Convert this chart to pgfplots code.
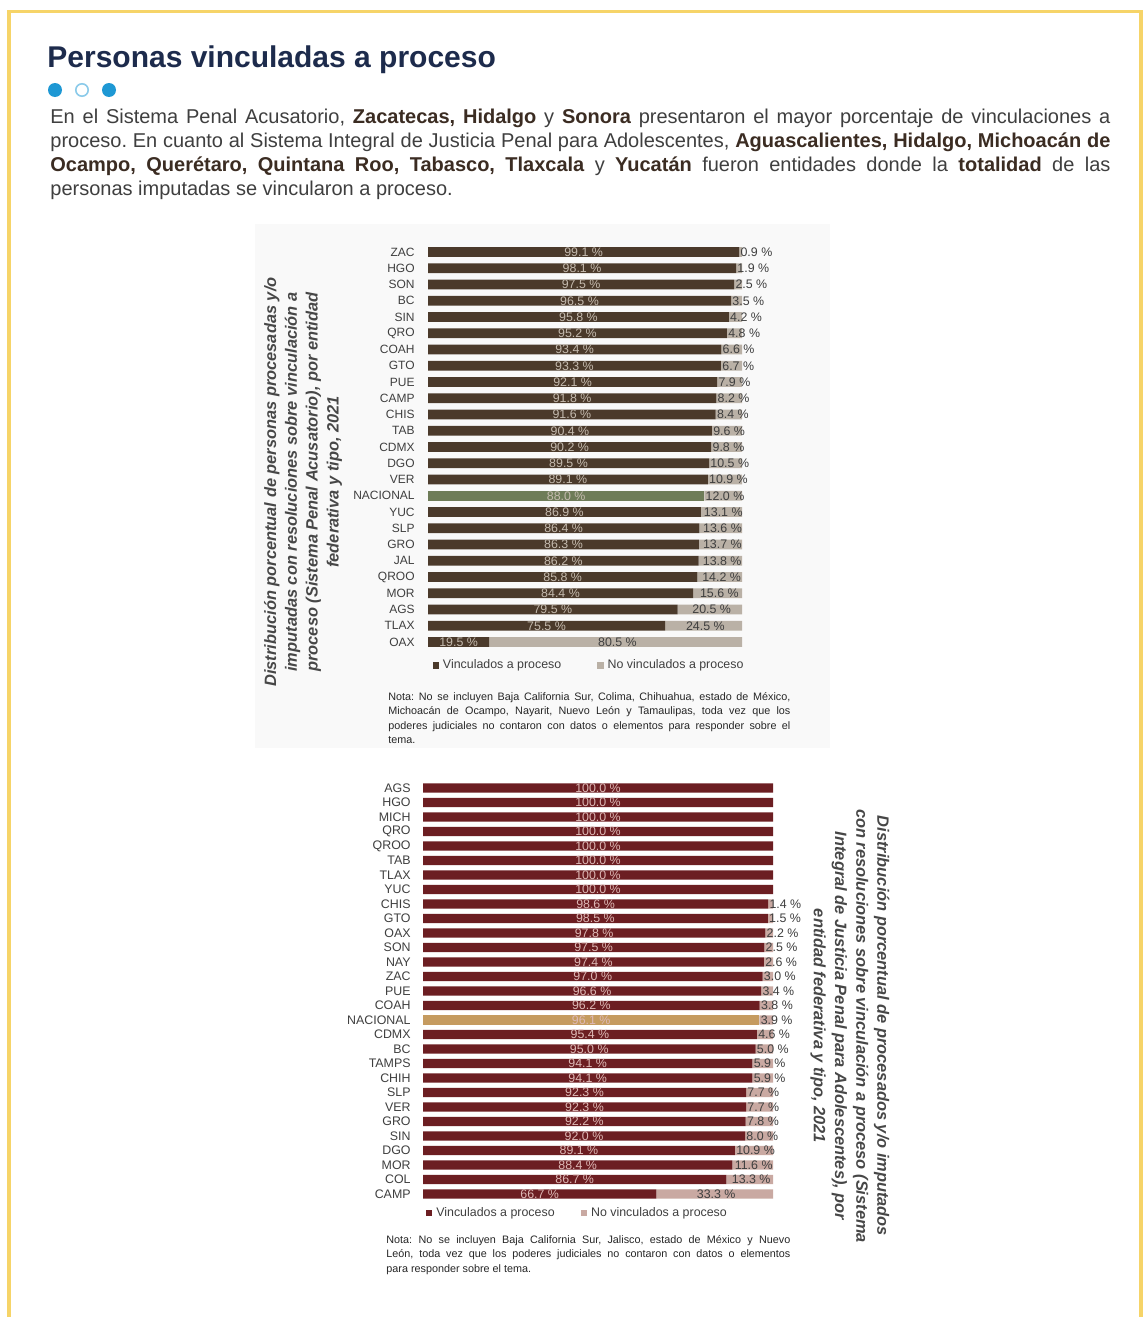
\documentclass[border=0pt]{standalone}
\usepackage{fontspec}
\setmainfont{Liberation Sans}
\usepackage{pgfplots}
\usepackage{pgfplotstable}
\pgfplotsset{compat=1.18}
\frenchspacing

\definecolor{frameY}{HTML}{F6D468}
\definecolor{titleC}{HTML}{1D2B4C}
\definecolor{dotC}{HTML}{1E98D4}
\definecolor{dotL}{HTML}{8CCBEA}
\definecolor{bodyC}{HTML}{3F3F3F}
\definecolor{boldC}{HTML}{3B2C22}
\definecolor{capC}{HTML}{474747}
\definecolor{aDark}{HTML}{4B3A2B}
\definecolor{aLight}{HTML}{BAB1A6}
\definecolor{aNat}{HTML}{6E7C58}
\definecolor{aMid}{HTML}{C4BAAE}
\definecolor{bDark}{HTML}{6C1E22}
\definecolor{bLight}{HTML}{C9A9A2}
\definecolor{bNat}{HTML}{C59B60}
\definecolor{bMid}{HTML}{DDB8B5}

\newcommand\B[1]{{\bfseries\color{boldC}#1}}

\pgfplotstableread{
name v nv nat
ZAC 99.1 0.9 0
HGO 98.1 1.9 0
SON 97.5 2.5 0
BC 96.5 3.5 0
SIN 95.8 4.2 0
QRO 95.2 4.8 0
COAH 93.4 6.6 0
GTO 93.3 6.7 0
PUE 92.1 7.9 0
CAMP 91.8 8.2 0
CHIS 91.6 8.4 0
TAB 90.4 9.6 0
CDMX 90.2 9.8 0
DGO 89.5 10.5 0
VER 89.1 10.9 0
NACIONAL 88.0 12.0 1
YUC 86.9 13.1 0
SLP 86.4 13.6 0
GRO 86.3 13.7 0
JAL 86.2 13.8 0
QROO 85.8 14.2 0
MOR 84.4 15.6 0
AGS 79.5 20.5 0
TLAX 75.5 24.5 0
OAX 19.5 80.5 0
}\tabA

\pgfplotstableread{
name v nv nat
AGS 100.0 0.0 0
HGO 100.0 0.0 0
MICH 100.0 0.0 0
QRO 100.0 0.0 0
QROO 100.0 0.0 0
TAB 100.0 0.0 0
TLAX 100.0 0.0 0
YUC 100.0 0.0 0
CHIS 98.6 1.4 0
GTO 98.5 1.5 0
OAX 97.8 2.2 0
SON 97.5 2.5 0
NAY 97.4 2.6 0
ZAC 97.0 3.0 0
PUE 96.6 3.4 0
COAH 96.2 3.8 0
NACIONAL 96.1 3.9 1
CDMX 95.4 4.6 0
BC 95.0 5.0 0
TAMPS 94.1 5.9 0
CHIH 94.1 5.9 0
SLP 92.3 7.7 0
VER 92.3 7.7 0
GRO 92.2 7.8 0
SIN 92.0 8.0 0
DGO 89.1 10.9 0
MOR 88.4 11.6 0
COL 86.7 13.3 0
CAMP 66.7 33.3 0
}\tabB

\pgfplotsset{
  barbase/.style={
    anchor=north west, scale only axis, xmin=0, xmax=100, y dir=reverse,
    axis line style={draw=none}, tick style={draw=none}, xtick=\empty,
    clip=false,
  },
  lblbase/.style={
    anchor=north west, scale only axis, xmin=0, xmax=100, y dir=reverse,
    hide axis, clip=false,
    /pgf/number format/assume math mode=true,
    point meta=explicit,
    nodes near coords={\pgfmathprintnumber[fixed,fixed zerofill,precision=1]{\pgfplotspointmeta}~\%},
    nodes near coords style={font=\fontsize{6.2}{7}\selectfont, inner sep=0pt},
  },
  lbl/.style={only marks, mark=text, text mark={}},
}

\begin{document}
\begin{tikzpicture}
\path[use as bounding box, fill=white] (0pt,0pt) rectangle (573pt,-658.5pt);

% frame
\draw[line width=1.7pt, frameY] (4.5pt,-658.5pt) -- (4.5pt,-5.75pt) -- (570.5pt,-5.75pt) -- (570.5pt,-658.5pt);

% title
\node[anchor=base west, inner sep=0pt, font=\fontsize{15}{18}\selectfont\bfseries, text=titleC] at (23.5pt,-33.5pt) {Personas vinculadas a proceso};

% dots
\fill[dotC] (27.5pt,-45pt) circle (3.5pt);
\filldraw[fill=white, draw=dotL, line width=0.8pt] (41pt,-45pt) circle (3.1pt);
\fill[dotC] (54.5pt,-45pt) circle (3.5pt);

% body
\node[anchor=base west, inner sep=0pt, text width=530pt, align=justify, font=\fontsize{10}{12}\selectfont, text=bodyC] at (25pt,-61.5pt)
{En el Sistema Penal Acusatorio, \B{Zacatecas, Hidalgo} y \B{Sonora} presentaron el mayor porcentaje de vinculaciones a\linebreak
proceso. En cuanto al Sistema Integral de Justicia Penal para Adolescentes, \B{Aguascalientes, Hidalgo, Michoacán de}\linebreak
\B{Ocampo, Querétaro, Quintana Roo, Tabasco, Tlaxcala} y \B{Yucatán} fueron entidades donde la \B{totalidad} de las\linebreak
personas imputadas se vincularon a proceso.};

% chart 1 panel
\fill[black!2.5] (127.5pt,-112pt) rectangle (415pt,-374pt);

% chart 1 caption
\node[rotate=90, align=center, inner sep=0pt, font=\fontsize{8.2}{10.4}\selectfont\bfseries\itshape, text=capC] at (151.5pt,-241pt)
{Distribución porcentual de personas procesadas y/o\\imputadas con resoluciones sobre vinculación a\\proceso (Sistema Penal Acusatorio), por entidad\\federativa y tipo, 2021};

% chart 1 bars
\begin{axis}[barbase,
  at={(214pt,-121.94pt)}, width=157pt, height=203.125pt,
  ymin=-0.5, ymax=24.5, xbar stacked, bar width=4.9pt,
  ytick={0,...,24}, yticklabels from table={\tabA}{name},
  yticklabel style={font=\fontsize{6}{7}\selectfont, text=bodyC, inner sep=0pt, xshift=-6.5pt},
  legend image code/.code={\fill[#1] (0pt,-1.6pt) rectangle (3.2pt,1.6pt);},
  legend style={at={(0.516,0)}, anchor=center, yshift=-7.6pt, draw=none, fill=none,
    font=\fontsize{6.2}{7}\selectfont, text=bodyC, legend columns=2, inner sep=0pt,
    /tikz/every even column/.append style={column sep=16pt}, cells={anchor=west}},
]
\addplot[forget plot, fill=aDark, draw=none] table[x expr=\thisrow{v}*(1-\thisrow{nat}), y expr=\coordindex]{\tabA};
\addplot[forget plot, fill=aNat, draw=none] table[x expr=\thisrow{v}*\thisrow{nat}, y expr=\coordindex]{\tabA};
\addplot[forget plot, fill=aLight, draw=none] table[x=nv, y expr=\coordindex]{\tabA};
\addlegendimage{fill=aDark, draw=none}
\addlegendentry{Vinculados a proceso}
\addlegendimage{fill=aLight, draw=none}
\addlegendentry{No vinculados a proceso}
\end{axis}

% chart 1 labels
\begin{axis}[lblbase, at={(214pt,-121.94pt)}, width=157pt, height=203.125pt, ymin=-0.5, ymax=24.5]
\addplot[lbl, nodes near coords style={text=aMid, anchor=center}] table[x expr=\thisrow{v}/2, y expr=\coordindex, meta=v]{\tabA};
\addplot[lbl, nodes near coords style={text=bodyC, anchor=west, inner sep=0.5pt}] table[x expr={max(\thisrow{v},(100+\thisrow{v})/2-6)}, y expr=\coordindex, meta=nv]{\tabA};
\end{axis}

% chart 1 note
\node[anchor=base west, inner sep=0pt, text width=201pt, align=justify, font=\fontsize{5.4}{7.3}\selectfont, text=black!85] at (194pt,-350pt)
{\hyphenpenalty=10000 Nota: No se incluyen Baja California Sur, Colima, Chihuahua, estado de México,\linebreak Michoacán de Ocampo, Nayarit, Nuevo León y Tamaulipas, toda vez que los\linebreak poderes judiciales no contaron con datos o elementos para responder sobre el\linebreak tema.};

% chart 2 caption
\node[rotate=-90, align=center, inner sep=0pt, font=\fontsize{8.2}{10.6}\selectfont\bfseries\itshape, text=capC] at (425pt,-513pt)
{Distribución porcentual de procesados y/o imputados\\con resoluciones sobre vinculación a proceso (Sistema\\Integral de Justicia Penal para Adolescentes), por\\entidad federativa y tipo, 2021};

% chart 2 bars
\begin{axis}[barbase,
  at={(211.5pt,-390.375pt)}, width=175pt, height=210.25pt,
  ymin=-0.5, ymax=28.5, xbar stacked, bar width=4.6pt,
  ytick={0,...,28}, yticklabels from table={\tabB}{name},
  yticklabel style={font=\fontsize{6.2}{7}\selectfont, text=bodyC, inner sep=0pt, xshift=-6pt},
  legend image code/.code={\fill[#1] (0pt,-1.6pt) rectangle (3.2pt,1.6pt);},
  legend style={at={(0.444,0)}, anchor=center, yshift=-6pt, draw=none, fill=none,
    font=\fontsize{6.2}{7}\selectfont, text=bodyC, legend columns=2, inner sep=0pt,
    /tikz/every even column/.append style={column sep=11pt}, cells={anchor=west}},
]
\addplot[forget plot, fill=bDark, draw=none] table[x expr=\thisrow{v}*(1-\thisrow{nat}), y expr=\coordindex]{\tabB};
\addplot[forget plot, fill=bNat, draw=none] table[x expr=\thisrow{v}*\thisrow{nat}, y expr=\coordindex]{\tabB};
\addplot[forget plot, fill=bLight, draw=none] table[x=nv, y expr=\coordindex]{\tabB};
\addlegendimage{fill=bDark, draw=none}
\addlegendentry{Vinculados a proceso}
\addlegendimage{fill=bLight, draw=none}
\addlegendentry{No vinculados a proceso}
\end{axis}

% chart 2 labels
\begin{axis}[lblbase, at={(211.5pt,-390.375pt)}, width=175pt, height=210.25pt, ymin=-0.5, ymax=28.5]
\addplot[lbl, nodes near coords style={text=bMid, anchor=center}] table[x expr=\thisrow{v}/2, y expr=\coordindex, meta=v]{\tabB};
\addplot[lbl, skip coords between index={0}{8}, nodes near coords style={text=bodyC, anchor=west, inner sep=0.5pt}] table[x expr={max(\thisrow{v},(100+\thisrow{v})/2-5.5)}, y expr=\coordindex, meta=nv]{\tabB};
\end{axis}

% chart 2 note
\node[anchor=base west, inner sep=0pt, text width=202pt, align=justify, font=\fontsize{5.4}{7.3}\selectfont, text=black!85] at (193pt,-621.5pt)
{\hyphenpenalty=10000 Nota: No se incluyen Baja California Sur, Jalisco, estado de México y Nuevo\linebreak León, toda vez que los poderes judiciales no contaron con datos o elementos\linebreak para responder sobre el tema.};

\end{tikzpicture}
\end{document}
